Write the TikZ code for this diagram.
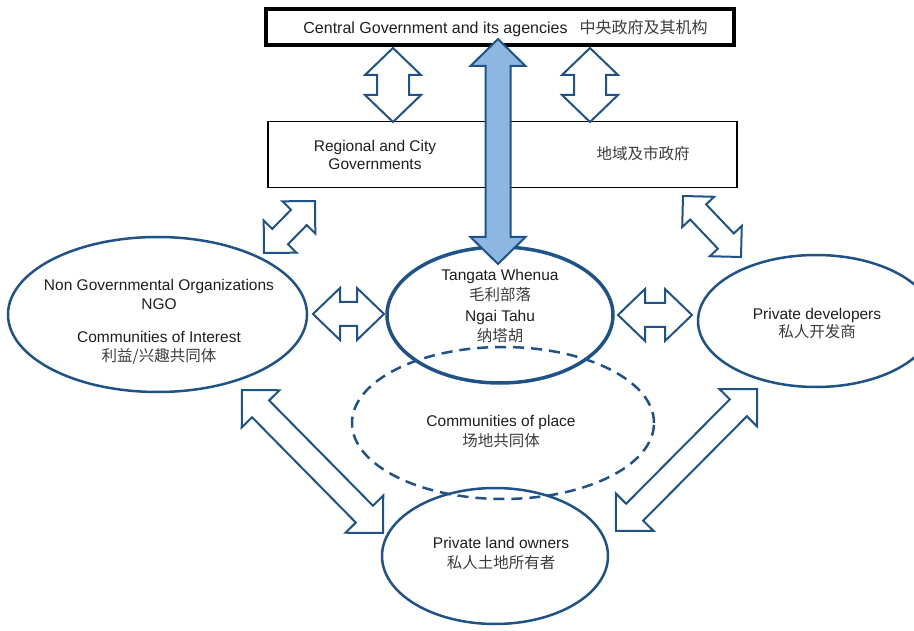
\documentclass[tikz,border=0pt]{standalone}
\usepackage{fontspec}
\setmainfont{Liberation Sans}
\newfontfamily\cjk{Noto Sans CJK SC}
\usetikzlibrary{shapes.geometric,calc}
\definecolor{dblue}{RGB}{31,82,134}
\definecolor{lblue}{RGB}{141,182,224}
\definecolor{txtc}{RGB}{30,30,30}
\definecolor{cjkc}{RGB}{60,60,60}
\newcommand\zh[1]{{\cjk\color{cjkc}#1}}
% #1 style, #2 name, #3 tip A, #4 tip B, #5 head length, #6 head half width, #7 shaft half width
\newcommand\barrow[7]{%
  \path ($(#3)!#5!(#4)$) coordinate (#2-ba) ($(#4)!#5!(#3)$) coordinate (#2-bb);
  \draw[#1] (#3) -- ($(#2-ba)!#6!90:(#4)$) -- ($(#2-ba)!#7!90:(#4)$)
    -- ($(#2-bb)!#7!-90:(#3)$) -- ($(#2-bb)!#6!-90:(#3)$) -- (#4)
    -- ($(#2-bb)!#6!90:(#3)$) -- ($(#2-bb)!#7!90:(#3)$)
    -- ($(#2-ba)!#7!-90:(#4)$) -- ($(#2-ba)!#6!-90:(#4)$) -- cycle;}
\begin{document}
\begin{tikzpicture}[x=1pt,y=-1pt,
  oval/.style={ellipse, draw=dblue, line width=2.5pt, inner sep=0pt},
  txt/.style={font=\fontsize{15.5}{19.5}\selectfont, text=txtc, align=center, inner sep=0pt},
  barr/.style={draw=dblue, fill=white, line width=2pt, line join=miter},
  bigarr/.style={draw=dblue, fill=lblue, line width=2pt, line join=miter}]
\useasboundingbox (0,0) rectangle (914,631);
\clip (0,0) rectangle (914,631);

% boxes
\node[draw=black, line width=4pt, minimum width=468pt, minimum height=36pt, inner sep=0pt] (central) at (500,27.5) {};
\node[draw=black, line width=1.5pt, minimum width=469pt, minimum height=66pt, inner sep=0pt] (regional) at (502.5,154.5) {};
\node[txt, font=\fontsize{16}{19}\selectfont] (central-t) at (505.5,28) {Central Government and its agencies\hspace{12pt}{\fontsize{16}{19}\selectfont\zh{中央政府及其机构}}};
\node[txt, font=\fontsize{15.5}{18}\selectfont] (regional-t) at (375,155) {Regional and City\\Governments};
\node[txt] (regional-zh) at (643,154) {\zh{地域及市政府}};

% ellipses
\node[oval, minimum width=299pt, minimum height=155pt] (ngo) at (157.5,314.5) {};
\node[oval, line width=3.5pt, minimum width=226pt, minimum height=136pt] (tangata) at (500,315) {};
\node[oval, minimum width=236pt, minimum height=132pt] (dev) at (816,321) {};
\node[oval, dash pattern=on 11pt off 7pt, minimum width=302pt, minimum height=152pt] (place) at (503,423) {};
\node[oval, minimum width=226pt, minimum height=136pt] (land) at (495,556) {};

% texts
\node[txt] (ngo-t) at (159,322) {Non Governmental Organizations\\NGO\\[13pt]Communities of Interest\\\zh{利益/兴趣共同体}};
\node[txt, font=\fontsize{15.5}{20.5}\selectfont] (tangata-t) at (500,306) {Tangata Whenua\\\zh{毛利部落}\\Ngai Tahu\\\zh{纳塔胡}};
\node[txt, font=\fontsize{15.5}{18}\selectfont] (dev-t) at (817,324) {Private developers\\\zh{私人开发商}};
\node[txt, font=\fontsize{15.5}{20}\selectfont] (place-t) at (501,432) {Communities of place\\\zh{场地共同体}};
\node[txt, font=\fontsize{15.5}{20}\selectfont] (land-t) at (501,554) {Private land owners\\\zh{私人土地所有者}};

% arrow end points
\coordinate (v1a) at (393,48);  \coordinate (v1b) at (393,122);
\coordinate (v2a) at (590,48);  \coordinate (v2b) at (590,122);
\coordinate (h1a) at (313,314); \coordinate (h1b) at (384,314);
\coordinate (h2a) at (618,315); \coordinate (h2b) at (692,315);
\coordinate (d1a) at (264,253); \coordinate (d1b) at (315,201);
\coordinate (d2a) at (683,196); \coordinate (d2b) at (741,257);
\coordinate (d3a) at (242,390); \coordinate (d3b) at (383,533);
\coordinate (d4a) at (616,531); \coordinate (d4b) at (757,389);
\coordinate (bigA) at (498,39); \coordinate (bigB) at (498,264);

\barrow{barr}{v1}{v1a}{v1b}{27pt}{28pt}{16pt}
\barrow{barr}{v2}{v2a}{v2b}{27pt}{28pt}{16pt}
\barrow{barr}{h1}{h1a}{h1b}{27pt}{26pt}{12pt}
\barrow{barr}{h2}{h2a}{h2b}{27pt}{26pt}{12pt}
\barrow{barr}{d1}{d1a}{d1b}{23pt}{23pt}{11pt}
\barrow{barr}{d2}{d2a}{d2b}{22pt}{22pt}{11pt}
\barrow{barr}{d3}{d3a}{d3b}{26.5pt}{26.5pt}{12pt}
\barrow{barr}{d4}{d4a}{d4b}{26.5pt}{26.5pt}{12pt}
\barrow{bigarr}{big}{bigA}{bigB}{27pt}{27.5pt}{12.5pt}
\end{tikzpicture}
\end{document}
